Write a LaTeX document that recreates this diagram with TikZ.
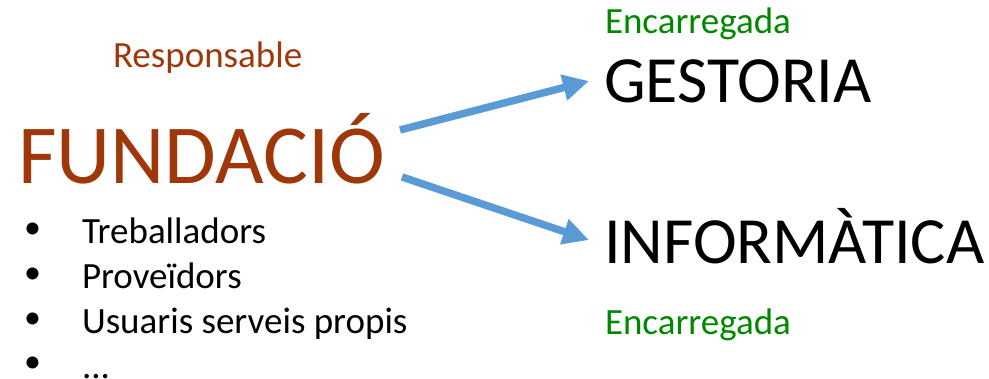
\documentclass[tikz,border=0pt]{standalone}
\usepackage{fontspec}
\setmainfont{Carlito}
\usetikzlibrary{arrows.meta}
\definecolor{brownred}{RGB}{158,56,10}
\definecolor{greenlbl}{RGB}{0,136,0}
\definecolor{arrowblue}{RGB}{91,155,213}
\tikzset{
  txt/.style={anchor=base west, inner sep=0pt, outer sep=0pt},
  bigbrown/.style={txt, text=brownred, font=\fontsize{84}{84}\selectfont},
  smallbrown/.style={txt, text=brownred, font=\fontsize{37}{37}\selectfont},
  bigblack/.style={txt, text=black, font=\fontsize{66}{66}\selectfont},
  greentxt/.style={txt, text=greenlbl, font=\fontsize{37}{37}\selectfont},
  itemtxt/.style={txt, text=black, font=\fontsize{37}{37}\selectfont},
  bullettxt/.style={txt, text=black, font=\fontsize{34}{34}\selectfont},
  conn/.style={draw=arrowblue, line width=7.5pt, -{Triangle[length=26pt,width=25pt]}}
}
\begin{document}
\begin{tikzpicture}[x=1pt,y=-1pt]
\useasboundingbox (0,0) rectangle (989,378);
\node[smallbrown] (resp) at (113,67) {Responsable};
\node[bigbrown] (fund) at (18,183) {FUNDACIÓ};
\node[greentxt] (enc1) at (605,33) {Encarregada};
\node[bigblack] (gest) at (604,102) {GESTORIA};
\node[bigblack] (info) at (604,263) {INFORMÀTICA};
\node[greentxt] (enc2) at (605,334) {Encarregada};
\node[bullettxt] (b1) at (24,238) {•};
\node[itemtxt] (i1) at (82,243) {Treballadors};
\node[bullettxt] (b2) at (24,283) {•};
\node[itemtxt] (i2) at (82,288) {Proveïdors};
\node[bullettxt] (b3) at (24,328) {•};
\node[itemtxt] (i3) at (82,333) {Usuaris serveis propis};
\node[bullettxt] (b4) at (24,372) {•};
\node[itemtxt] (i4) at (82,378) {...};
\coordinate (a1s) at (400,130);
\coordinate (a1e) at (589,81);
\coordinate (a2s) at (402,177);
\coordinate (a2e) at (589,240);
\draw[conn] (a1s) -- (a1e);
\draw[conn] (a2s) -- (a2e);
\end{tikzpicture}
\end{document}
